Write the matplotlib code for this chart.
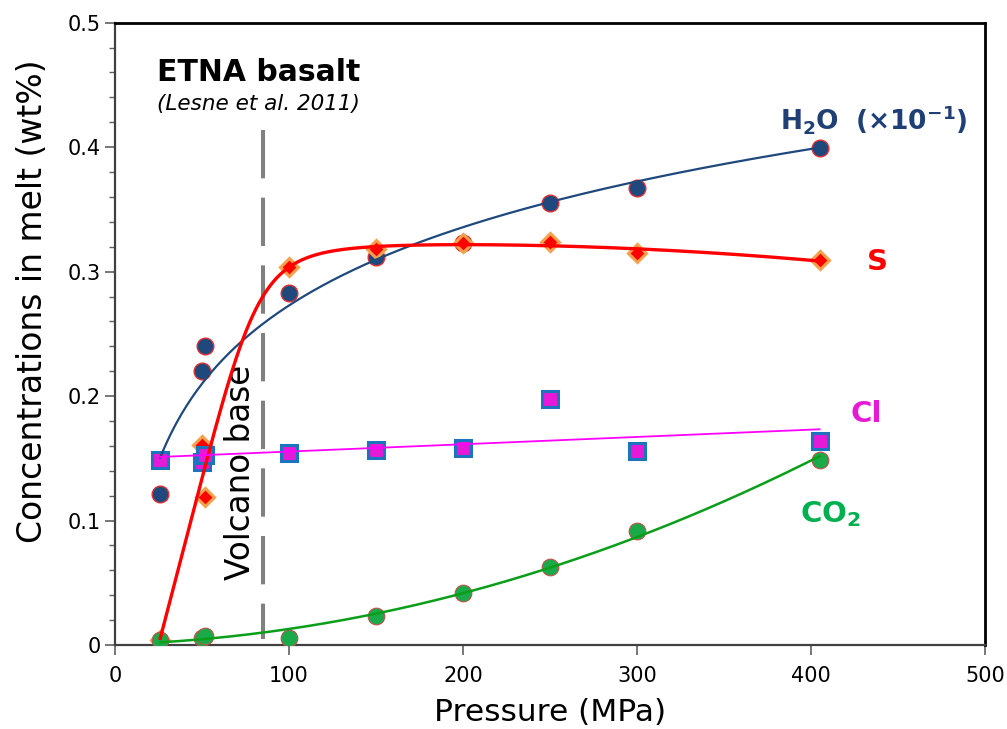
import numpy as np
import matplotlib
matplotlib.use("Agg")
import matplotlib.pyplot as plt
from matplotlib.ticker import MultipleLocator

# Experimental pressures (MPa) and volatile concentrations in the melt (wt%)
pressure = np.array([26, 50, 52, 100, 150, 200, 250, 300, 405])
h2o = np.array([0.121, 0.220, 0.240, 0.283, 0.312, 0.323, 0.355, 0.367, 0.399])  # x 10^-1
sulfur = np.array([0.004, 0.161, 0.119, 0.304, 0.318, 0.323, 0.324, 0.315, 0.309])
chlorine = np.array([0.149, 0.147, 0.153, 0.154, 0.157, 0.158, 0.198, 0.156, 0.164])
co2 = np.array([0.004, 0.006, 0.007, 0.006, 0.023, 0.042, 0.063, 0.092, 0.149])

volcano_base = 85  # MPa

navy = "#1F497D"
red = "#FF0000"
magenta = "#E619D8"
green = "#00B050"


def fit_saturation(x, y):
    # linear rise that bends onto a slowly varying plateau:
    # y = g(x) * (c0 + c1*dx + c2*dx^2), g = u / (1 + u^p)^(1/p), u = dx / s
    x0 = x.min() - 1.0
    best = None
    for s in np.linspace(20, 120, 201):
        for p in (2, 3, 4, 5, 6, 8):
            dx = x - x0
            u = dx / s
            g = u / (1 + u ** p) ** (1 / p)
            basis = np.column_stack([g, g * dx, g * dx ** 2])
            coef, *_ = np.linalg.lstsq(basis, y, rcond=None)
            err = np.sum((basis @ coef - y) ** 2)
            if best is None or err < best[0]:
                best = (err, s, p, coef)
    _, s, p, coef = best

    def curve(xx):
        dx = xx - x0
        u = dx / s
        g = u / (1 + u ** p) ** (1 / p)
        return g * (coef[0] + coef[1] * dx + coef[2] * dx ** 2)
    return curve


xs = np.linspace(pressure.min(), pressure.max(), 400)

h2o_fit = np.polyfit(np.log(pressure), h2o, 1)
cl_fit = np.polyfit(pressure, chlorine, 1)
co2_fit = np.polyfit(pressure, co2, 2)
s_curve = fit_saturation(pressure.astype(float), sulfur)

fig = plt.figure(figsize=(10.07, 7.29), dpi=100)
ax = fig.add_axes([0.1142, 0.1152, 0.8638, 0.8537])

# markers
ax.plot(pressure, h2o, "o", ms=12, mfc=navy, mec="#E03030", mew=1.0, zorder=3)
ax.plot(pressure, sulfur, "D", ms=9.5, mfc=red, mec="#F7A04A", mew=2.2, zorder=3)
ax.plot(pressure, chlorine, "s", ms=11, mfc=magenta, mec="#1C75BC", mew=2.2, zorder=3)
ax.plot(pressure, co2, "o", ms=12, mfc="#1AAA4A", mec="#C0504D", mew=0.8, zorder=3)

# trend lines
ax.plot(xs, np.polyval(h2o_fit, np.log(xs)), color=navy, lw=1.6, zorder=4)
ax.plot(xs, s_curve(xs), color=red, lw=2.4, zorder=4)
ax.plot(xs, np.polyval(cl_fit, xs), color="#FF00FF", lw=1.3, zorder=4)
ax.plot(xs, np.polyval(co2_fit, xs), color="#0A9E1A", lw=1.8, zorder=4)

# volcano base marker
ax.plot([volcano_base, volcano_base], [0.414, 0.005], color="#808080", lw=2.9,
        dashes=(12, 4.8), zorder=2)
ax.text(72, 0.139, "Volcano base", rotation=90, fontsize=23.5, ha="center", va="center")

ax.text(24, 0.460, "ETNA basalt", fontsize=21.5, fontweight="bold", ha="left", va="center")
ax.text(24, 0.435, "(Lesne et al. 2011)", fontsize=15.5, style="italic", ha="left", va="center")

ax.text(382, 0.4145, r"$\mathbf{H_2O\ \ (\times 10^{-1})}$", fontsize=19, color="#1F3F77",
        ha="left", va="baseline")
ax.text(432, 0.3076, "S", fontsize=21, fontweight="bold", color=red, ha="left", va="center")
ax.text(423, 0.186, "Cl", fontsize=21, fontweight="bold", color=magenta, ha="left", va="center")
ax.text(394, 0.099, r"$\mathbf{CO_2}$", fontsize=21, color=green, ha="left", va="baseline")

ax.set_xlim(0, 500)
ax.set_ylim(0, 0.5)
ax.xaxis.set_major_locator(MultipleLocator(100))
ax.yaxis.set_minor_locator(MultipleLocator(0.02))
ax.set_yticks([0, 0.1, 0.2, 0.3, 0.4, 0.5])
ax.set_yticklabels(["0", "0.1", "0.2", "0.3", "0.4", "0.5"])

ax.tick_params(axis="both", which="major", labelsize=15, direction="out", length=7,
               width=1.2, color="#606060")
ax.tick_params(axis="y", which="minor", direction="out", length=4, width=1.0, color="#606060")
ax.tick_params(axis="x", pad=8)

for side in ("top", "right"):
    ax.spines[side].set_color("black")
    ax.spines[side].set_linewidth(2.0)
for side in ("left", "bottom"):
    ax.spines[side].set_color("#404040")
    ax.spines[side].set_linewidth(1.6)

ax.set_xlabel("Pressure (MPa)", fontsize=22.5, labelpad=9)
ax.set_ylabel("Concentrations in melt (wt%)", fontsize=23.8, labelpad=6)
ax.yaxis.set_label_coords(-0.076, 0.553)

fig.savefig("out.png", dpi=100)
